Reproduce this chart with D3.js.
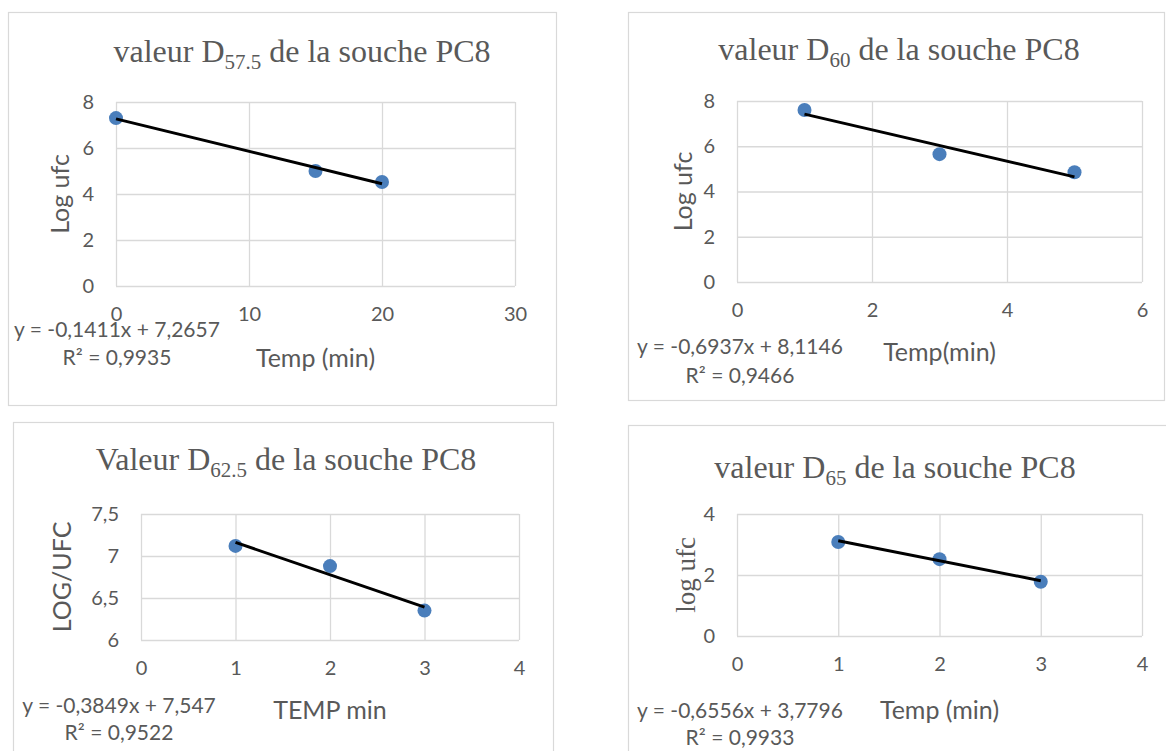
<!DOCTYPE html>
<html>
<head>
<meta charset="utf-8">
<script src="https://cdn.jsdelivr.net/npm/d3@7"></script>
<style>
body { margin: 0; background: #fff; }
text { fill: #595959; }
.sans { font-family: Lato, "Open Sans", "Liberation Sans", sans-serif; }
.serif { font-family: "Liberation Serif", "DejaVu Serif", serif; }
</style>
</head>
<body>
<svg id="svg"></svg>
<script>
var width = 1166, height = 751;

// data
var temps57 = [0, 15, 20], logs57 = [7.3, 5.0, 4.52];
var temps60 = [1, 3, 5], logs60 = [7.6, 5.65, 4.85];
var temps62 = [1, 2, 3], logs62 = [7.12, 6.88, 6.35];
var temps65 = [1, 2, 3], logs65 = [3.08, 2.52, 1.78];

var subs = ["57.5", "60", "62.5", "65"];
var titleWords = ["valeur D", "valeur D", "Valeur D", "valeur D"];
var slopes = [-0.1411, -0.6937, -0.3849, -0.6556];
var intercepts = [7.2657, 8.1146, 7.547, 3.7796];
var eqTexts = ["y = -0,1411x + 7,2657", "y = -0,6937x + 8,1146", "y = -0,3849x + 7,547", "y = -0,6556x + 3,7796"];
var r2Texts = ["R² = 0,9935", "R² = 0,9466", "R² = 0,9522", "R² = 0,9933"];
var xTitles = ["Temp (min)", "Temp(min)", "TEMP min", "Temp (min)"];
var yTitles = ["Log ufc", "Log ufc", "LOG/UFC", "log ufc"];
var xTicks57 = [0, 10, 20, 30], xTicks60 = [0, 2, 4, 6], xTicks62 = [0, 1, 2, 3, 4], xTicks65 = [0, 1, 2, 3, 4];
var yTicks57 = [0, 2, 4, 6, 8], yTicks60 = [0, 2, 4, 6, 8], yTicks62 = [6, 6.5, 7, 7.5], yTicks65 = [0, 2, 4];

var svg = d3.select("#svg")
	.attr("width", width)
	.attr("height", height);

// layout of each panel
var panels = [
	{ box: [8, 12, 548, 393], plot: [116, 515, 102, 286], xs: temps57, ys: logs57, xt: xTicks57, yt: yTicks57,
	  titleX: 302, titleY: 62, eq: [117, 337], r2: [117, 365], xTitleY: 367, yTitleX: 60, yTitleSerif: false },
	{ box: [628, 12, 536, 388], plot: [737, 1142, 101, 282], xs: temps60, ys: logs60, xt: xTicks60, yt: yTicks60,
	  titleX: 899, titleY: 60, eq: [740, 354], r2: [740, 383], xTitleY: 361, yTitleX: 683, yTitleSerif: false },
	{ box: [13, 422, 540, 340], plot: [141, 519, 514, 640], xs: temps62, ys: logs62, xt: xTicks62, yt: yTicks62,
	  titleX: 286, titleY: 470, eq: [119, 713], r2: [119, 740], xTitleY: 719, yTitleX: 62, yTitleSerif: false },
	{ box: [628, 425, 545, 340], plot: [737, 1142, 514, 636], xs: temps65, ys: logs65, xt: xTicks65, yt: yTicks65,
	  titleX: 895, titleY: 478, eq: [740, 718], r2: [740, 745], xTitleY: 719, yTitleX: 686, yTitleSerif: true }
];

function fmt(v) { return String(v).replace(".", ","); }

panels.forEach(function(p, i) {
	var g = svg.append("g");
	g.append("rect")
		.attr("x", p.box[0] + 0.5).attr("y", p.box[1] + 0.5)
		.attr("width", p.box[2]).attr("height", p.box[3])
		.attr("fill", "#fff").attr("stroke", "#d9d9d9").attr("stroke-width", 1.2);

	var x = d3.scaleLinear().domain([p.xt[0], p.xt[p.xt.length - 1]]).range([p.plot[0], p.plot[1]]);
	var y = d3.scaleLinear().domain([p.yt[0], p.yt[p.yt.length - 1]]).range([p.plot[3], p.plot[2]]);

	// gridlines
	var xGrid = d3.axisBottom(x).tickValues(p.xt).tickSize(-(p.plot[3] - p.plot[2])).tickFormat("");
	var yGrid = d3.axisLeft(y).tickValues(p.yt).tickSize(-(p.plot[1] - p.plot[0])).tickFormat("");
	g.append("g").attr("transform", "translate(0," + p.plot[3] + ")").call(xGrid)
		.call(function(s) { s.select(".domain").remove(); s.selectAll("line").attr("stroke", "#d9d9d9").attr("stroke-width", 1.3); });
	g.append("g").attr("transform", "translate(" + p.plot[0] + ",0)").call(yGrid)
		.call(function(s) { s.select(".domain").remove(); s.selectAll("line").attr("stroke", "#d9d9d9").attr("stroke-width", 1.3); });

	// tick labels
	var xAxis = d3.axisBottom(x).tickValues(p.xt).tickSize(0).tickPadding(21).tickFormat(fmt);
	var yAxis = d3.axisLeft(y).tickValues(p.yt).tickSize(0).tickPadding(22).tickFormat(fmt);
	g.append("g").attr("transform", "translate(0," + p.plot[3] + ")").call(xAxis)
		.call(function(s) { s.select(".domain").remove(); s.selectAll("text").attr("class", "sans").style("font-size", "20px").attr("fill", "#595959"); });
	g.append("g").attr("transform", "translate(" + p.plot[0] + ",0)").call(yAxis)
		.call(function(s) { s.select(".domain").remove(); s.selectAll("text").attr("class", "sans").style("font-size", "20px").attr("fill", "#595959"); });

	// title
	var t = g.append("text").attr("class", "serif")
		.attr("x", p.titleX).attr("y", p.titleY)
		.attr("text-anchor", "middle").style("font-size", "32px");
	t.append("tspan").text(titleWords[i]);
	t.append("tspan").attr("dy", 7).style("font-size", "21px").text(subs[i]);
	t.append("tspan").attr("dy", -7).text(" de la souche PC8");

	// axis titles
	g.append("text").attr("class", "sans")
		.attr("x", (p.plot[0] + p.plot[1]) / 2).attr("y", p.xTitleY)
		.attr("text-anchor", "middle").style("font-size", "25px").text(xTitles[i]);
	g.append("text").attr("class", p.yTitleSerif ? "serif" : "sans")
		.attr("transform", "translate(" + p.yTitleX + "," + (p.plot[2] + p.plot[3]) / 2 + ") rotate(-90)")
		.attr("text-anchor", "middle").attr("dy", "0.35em")
		.style("font-size", p.yTitleSerif ? "27px" : "25px").text(yTitles[i]);

	// trendline from the fitted equation
	var x0 = d3.min(p.xs), x1 = d3.max(p.xs);
	var trend = function() {
		g.append("line")
			.attr("x1", x(x0)).attr("y1", y(slopes[i] * x0 + intercepts[i]))
			.attr("x2", x(x1)).attr("y2", y(slopes[i] * x1 + intercepts[i]))
			.attr("stroke", "#000").attr("stroke-width", 3);
	};

	// points
	g.selectAll("circle").data(d3.range(p.xs.length)).enter().append("circle")
		.attr("cx", function(d) { return x(p.xs[d]); })
		.attr("cy", function(d) { return y(p.ys[d]); })
		.attr("r", 7)
		.attr("fill", "#4a7ebb");
	trend();

	// equation
	g.append("text").attr("class", "sans").attr("text-anchor", "middle")
		.attr("x", p.eq[0]).attr("y", p.eq[1]).style("font-size", "21px").text(eqTexts[i]);
	g.append("text").attr("class", "sans").attr("text-anchor", "middle")
		.attr("x", p.r2[0]).attr("y", p.r2[1]).style("font-size", "21px").text(r2Texts[i]);
});
</script>
</body>
</html>
